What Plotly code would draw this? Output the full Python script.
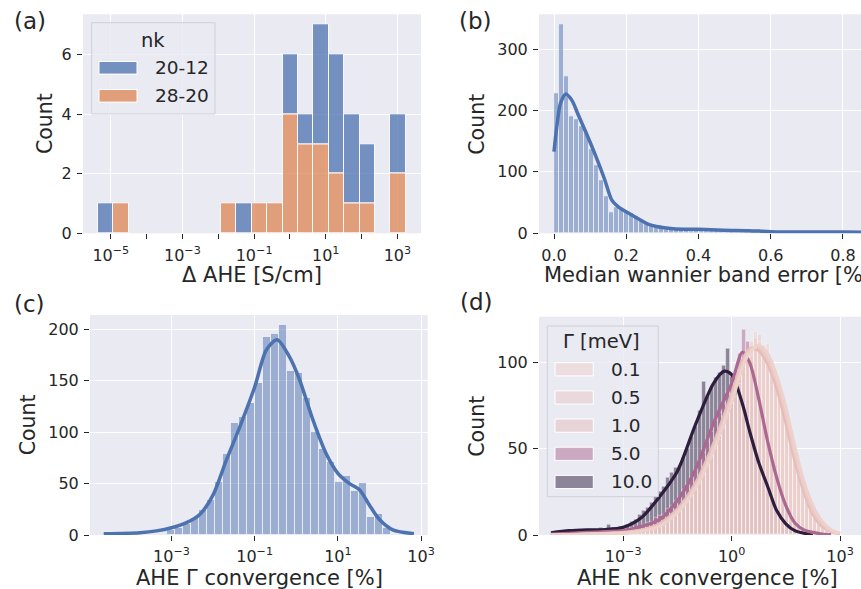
import math
import plotly.graph_objects as go

# ---------------- data ----------------
# (a) Delta AHE histogram (log10 bins), stacked by nk
a_bin_start = -5.363          # log10 of first bin edge
a_bin_width = 0.4299          # bin width in decades
a_hue_labels = ["20-12", "28-20"]
a_counts_20_12 = [1, 0, 0, 0, 0, 0, 0, 0, 0, 1, 0, 0, 2, 1, 4, 4, 3, 2, 0, 2]
a_counts_28_20 = [0, 1, 0, 0, 0, 0, 0, 0, 1, 0, 1, 1, 4, 3, 3, 2, 1, 1, 0, 2]
a_tickvals = [-5, -3, -1, 1, 3]
a_ticktext = ["10<sup>−5</sup>", "10<sup>−3</sup>", "10<sup>−1</sup>", "10<sup>1</sup>", "10<sup>3</sup>"]
a_minor_vals = [-4, -2, 0, 2]
a_yticks = [0, 2, 4, 6]

# (b) median wannier band error histogram + kde
b_bin_start = 0.0
b_bin_width = 0.01385
b_counts = [228, 340, 255, 190, 186, 174, 163, 137, 110, 86, 60, 35, 43, 40, 36, 33,
            28, 22, 16, 12, 10, 9, 7, 6, 6, 5, 5, 4, 5, 4, 3, 4, 3, 3, 2, 3,
            2, 2, 3, 4, 2, 1, 1, 2, 1, 1, 1, 0, 1, 1, 0, 1, 1, 0, 1, 0,
            1, 1, 0, 1, 1, 1]
b_kde_x = [0.0, 0.008, 0.018, 0.033, 0.05, 0.067, 0.09, 0.114, 0.14, 0.16, 0.178, 0.206,
           0.238, 0.26, 0.284, 0.33, 0.4, 0.47, 0.54, 0.6, 0.7, 0.8, 0.9]
b_kde_y = [133, 175, 212, 227, 216, 193, 162, 128, 88, 54, 43, 33,
           22, 15, 11, 7.6, 6.5, 5, 4.3, 2.7, 2, 2.2, 1.5]
b_tickvals = [0.0, 0.2, 0.4, 0.6, 0.8]
b_ticktext = ["0.0", "0.2", "0.4", "0.6", "0.8"]
b_yticks = [0, 100, 200, 300]

# (c) AHE Gamma convergence histogram (log10 bins) + kde
c_bin_start = -3.114
c_bin_width = 0.1922
c_counts = [5, 7, 11, 17, 24, 34, 52, 79, 109, 115, 128, 148, 193, 196, 204, 160,
            158, 133, 100, 84, 71, 52, 57, 43, 51, 18, 20, 7]
c_kde_x = [-4.63, -3.76, -3.36, -3.0, -2.64, -2.32, -2.0, -1.68, -1.36, -1.0, -0.72,
           -0.46, -0.16, 0.08, 0.40, 0.72, 1.0, 1.28, 1.52, 1.76, 2.0, 2.32, 2.83]
c_kde_y = [1.3, 2.3, 4, 7, 12, 20, 39, 73, 105, 144, 180, 190, 173, 151, 112, 79, 60,
           50, 44, 29, 15, 5, 1.3]
c_tickvals = [-3, -1, 1, 3]
c_ticktext = ["10<sup>−3</sup>", "10<sup>−1</sup>", "10<sup>1</sup>", "10<sup>3</sup>"]
c_yticks = [0, 50, 100, 150, 200]

# (d) AHE nk convergence histograms per Gamma (log10 bins, shared) + kde
d_bin_start = -5.0
d_bin_width = 0.11
d_gamma = [0.1, 0.5, 1.0, 5.0, 10.0]
d_gamma_labels = ["0.1", "0.5", "1.0", "5.0", "10.0"]
d_counts_0_1 = [0] * 10 + [0, 1, 0, 1, 0, 1, 1, 1, 1] + [
    2, 1, 2, 3, 2, 3, 4, 4, 5, 6, 8, 10, 12, 14, 17, 20, 23, 28, 31, 36,
    40, 45, 51, 55, 62, 68, 76, 80, 88, 97, 102, 108, 118, 112, 106, 111, 98, 92, 86, 74,
    66, 55, 46, 38, 31, 24, 18, 13, 9, 6, 4, 2, 1]
d_counts_0_5 = [0] * 10 + [0, 0, 1, 0, 1, 1, 0, 1, 1] + [
    1, 2, 2, 2, 3, 3, 4, 5, 5, 7, 8, 9, 12, 15, 16, 21, 24, 27, 32, 35,
    41, 46, 50, 57, 63, 70, 74, 83, 90, 95, 104, 112, 109, 116, 110, 104, 100, 95, 84, 75,
    66, 58, 47, 41, 31, 26, 19, 15, 10, 7, 4, 2, 1]
d_counts_1_0 = [0] * 10 + [0, 1, 0, 1, 0, 1, 1, 1, 1] + [
    2, 2, 3, 2, 3, 4, 4, 5, 6, 7, 9, 11, 13, 15, 18, 21, 25, 29, 33, 37,
    43, 48, 53, 58, 65, 72, 79, 86, 92, 100, 107, 104, 114, 108, 103, 100, 96, 88, 80, 72,
    63, 54, 45, 37, 29, 23, 17, 13, 9, 6, 3, 2, 1]
d_counts_5_0 = [0, 0, 0, 1, 0, 0, 1, 0, 0, 1,
                1, 0, 1, 1, 2, 1, 2, 2, 3, 3, 4, 4, 5, 6, 7, 8, 10, 11, 12, 15,
                17, 20, 22, 26, 30, 34, 38, 43, 48, 54, 60, 66, 71, 76, 83, 88, 96, 105, 119, 112,
                100, 92, 79, 67, 58, 48, 40, 30, 22, 17, 12, 8, 6, 4, 3, 2, 1, 1, 0, 0, 0, 0]
d_counts_10_0 = [1, 1, 2, 1, 2, 3, 2, 3, 2, 3, 3, 2, 4, 3, 6, 4, 4, 5, 5, 6,
                 8, 9, 12, 14, 16, 19, 22, 25, 28, 33, 36, 39, 40, 45, 50, 57, 63, 72, 89, 80,
                 86, 91, 94, 98, 108, 92, 86, 78, 68, 60, 52, 45, 38, 31, 25, 20, 15, 11, 8, 6,
                 4, 3, 2, 1, 1, 0, 0, 0, 0, 0, 0, 0]
d_kde_x_light = [-5.0, -4.5, -4.0, -3.5, -3.0, -2.5, -2.0, -1.5, -1.0, -0.5, 0.0, 0.3,
                 0.5, 0.75, 1.0, 1.25, 1.5, 1.75, 2.0, 2.25, 2.5, 2.75, 3.0]
d_kde_y_0_1 = [0, 0.2, 0.4, 0.7, 1, 2, 5, 13, 27, 49, 77, 97, 106, 110, 105, 92, 74, 51,
               31, 17, 8, 3, 1]
d_kde_y_0_5 = [0, 0.2, 0.5, 0.8, 1.2, 2.3, 5.5, 14, 28, 51, 79, 99, 107, 109, 102, 89, 70,
               47, 28, 14, 6.5, 2.5, 0.8]
d_kde_y_1_0 = [0, 0.3, 0.6, 1, 1.5, 2.8, 6.5, 15, 30, 53, 82, 101, 108, 107, 99, 85, 65,
               43, 25, 12, 5, 2, 0.6]
d_kde_x_5_0 = [-5.0, -4.5, -4.0, -3.5, -3.0, -2.5, -2.0, -1.5, -1.0, -0.5, 0.0, 0.3, 0.5,
               0.75, 1.0, 1.25, 1.5, 1.75, 2.0, 2.25, 2.5, 2.75]
d_kde_y_5_0 = [0.5, 1, 1.5, 2, 2.5, 5, 9, 20, 38, 65, 88, 106, 100, 79, 54, 33, 17, 7, 3,
               1.5, 0.5, 0.2]
d_kde_x_10_0 = [-5.0, -4.5, -4.0, -3.5, -3.0, -2.5, -2.0, -1.5, -1.0, -0.5, -0.2, 0.0, 0.3,
                0.5, 0.75, 1.0, 1.25, 1.5, 1.75, 2.0, 2.25]
d_kde_y_10_0 = [1.3, 2.5, 3, 3.2, 4.5, 10, 22, 37, 64, 88, 95, 93, 76, 60, 42, 28, 14, 6.5,
                2.5, 1, 0.3]
d_tickvals = [-3, 0, 3]
d_ticktext = ["10<sup>−3</sup>", "10<sup>0</sup>", "10<sup>3</sup>"]
d_yticks = [0, 50, 100]

# ---------------- styling ----------------
W, H = 861, 589
FONT = "DejaVu Sans"
TXT = "#262626"
BG = "#eaeaf2"
BLUE = (76, 114, 176)
ORANGE = (221, 132, 82)


def rgba(c, a):
    return "rgba(%d,%d,%d,%.3f)" % (c[0], c[1], c[2], a)


def cubehelix(v):
    # seaborn default numeric hue palette ("ch:")
    start, rot, gamma, hue, light, dark = 0.0, 0.4, 1.0, 0.8, 0.85, 0.15
    x = light + (dark - light) * v
    xg = x ** gamma
    a = hue * xg * (1 - xg) / 2
    phi = 2 * math.pi * (start / 3 + rot * x)
    r = xg + a * (-0.14861 * math.cos(phi) + 1.78277 * math.sin(phi))
    g = xg + a * (-0.29227 * math.cos(phi) - 0.90649 * math.sin(phi))
    b = xg + a * (1.97294 * math.cos(phi))
    return tuple(int(round(255 * min(1, max(0, c)))) for c in (r, g, b))


def px_x(p):
    return p / W


def px_y(p):
    return 1 - p / H


def centers(start, width, counts):
    xs, ys = [], []
    for i, c in enumerate(counts):
        if c > 0:
            xs.append(start + width * (i + 0.5))
            ys.append(c)
    return xs, ys


fig = go.Figure()

# ----- (a) stacked histogram -----
n_a = len(a_counts_28_20)
xa_o, ya_o = centers(a_bin_start, a_bin_width, a_counts_28_20)
fig.add_trace(go.Bar(x=xa_o, y=ya_o, width=a_bin_width, xaxis="x", yaxis="y",
                     marker=dict(color=rgba(ORANGE, 0.75), line=dict(color="rgba(255,255,255,0.9)", width=1)),
                     showlegend=False, hoverinfo="skip"))
xb, yb, bb = [], [], []
for i in range(n_a):
    if a_counts_20_12[i] > 0:
        xb.append(a_bin_start + a_bin_width * (i + 0.5))
        yb.append(a_counts_20_12[i])
        bb.append(a_counts_28_20[i])
fig.add_trace(go.Bar(x=xb, y=yb, base=bb, width=a_bin_width, xaxis="x", yaxis="y",
                     marker=dict(color=rgba(BLUE, 0.75), line=dict(color="rgba(255,255,255,0.9)", width=1)),
                     showlegend=False, hoverinfo="skip"))

# ----- (b) -----
xb2, yb2 = centers(b_bin_start, b_bin_width, b_counts)
fig.add_trace(go.Bar(x=xb2, y=yb2, width=b_bin_width, xaxis="x2", yaxis="y2",
                     marker=dict(color=rgba(BLUE, 0.5), line=dict(color="rgba(255,255,255,0.6)", width=1)),
                     showlegend=False, hoverinfo="skip"))
fig.add_trace(go.Scatter(x=b_kde_x, y=b_kde_y, mode="lines", xaxis="x2", yaxis="y2",
                         line=dict(color=rgba(BLUE, 1), width=3.5, shape="spline", smoothing=0.8),
                         showlegend=False, hoverinfo="skip"))

# ----- (c) -----
xc, yc = centers(c_bin_start, c_bin_width, c_counts)
fig.add_trace(go.Bar(x=xc, y=yc, width=c_bin_width, xaxis="x3", yaxis="y3",
                     marker=dict(color=rgba(BLUE, 0.5), line=dict(color="rgba(255,255,255,0.6)", width=1)),
                     showlegend=False, hoverinfo="skip"))
fig.add_trace(go.Scatter(x=c_kde_x, y=c_kde_y, mode="lines", xaxis="x3", yaxis="y3",
                         line=dict(color=rgba(BLUE, 1), width=3.5, shape="spline", smoothing=0.8),
                         showlegend=False, hoverinfo="skip"))

# ----- (d) -----
d_counts = [d_counts_0_1, d_counts_0_5, d_counts_1_0, d_counts_5_0, d_counts_10_0]
d_kde = [(d_kde_x_light, d_kde_y_0_1), (d_kde_x_light, d_kde_y_0_5), (d_kde_x_light, d_kde_y_1_0),
         (d_kde_x_5_0, d_kde_y_5_0), (d_kde_x_10_0, d_kde_y_10_0)]
gmin, gmax = min(d_gamma), max(d_gamma)
d_colors = [cubehelix((g - gmin) / (gmax - gmin)) for g in d_gamma]
for idx in reversed(range(len(d_gamma))):
    xd, yd = centers(d_bin_start, d_bin_width, d_counts[idx])
    fig.add_trace(go.Bar(x=xd, y=yd, width=d_bin_width, xaxis="x4", yaxis="y4",
                         marker=dict(color=rgba(d_colors[idx], 0.5), line=dict(color="rgba(255,255,255,0.5)", width=0.8)),
                         showlegend=False, hoverinfo="skip"))
for idx in reversed(range(len(d_gamma))):
    kx, ky = d_kde[idx]
    fig.add_trace(go.Scatter(x=kx, y=ky, mode="lines", xaxis="x4", yaxis="y4",
                             line=dict(color=rgba(d_colors[idx], 1), width=3.2, shape="spline", smoothing=0.8),
                             showlegend=False, hoverinfo="skip"))

# ---------------- axes ----------------
base_axis = dict(showgrid=True, gridcolor="white", gridwidth=1.3, zeroline=False, showline=False,
                 ticks="outside", ticklen=5, tickwidth=1.3, tickcolor=TXT, automargin=False,
                 tickfont=dict(family=FONT, size=16, color=TXT), ticklabelstandoff=2)

dom_left_a = [px_x(83), px_x(421)]
dom_left_c = [px_x(90), px_x(427.7)]
dom_right = [px_x(539), 1.0]
dom_top = [px_y(233.3), px_y(14.3)]
dom_bot_c = [px_y(535), px_y(315)]
dom_bot_d = [px_y(535), px_y(316.7)]

fig.update_layout(
    template="none",
    xaxis=dict(base_axis, domain=dom_left_a, range=[-5.776, 3.66], anchor="y",
               tickmode="array", tickvals=a_tickvals, ticktext=a_ticktext,
               minor=dict(tickmode="array", tickvals=a_minor_vals, ticks="outside", ticklen=5,
                          tickwidth=1.3, tickcolor=TXT, showgrid=False)),
    yaxis=dict(base_axis, domain=dom_top, range=[0, 7.35], anchor="x",
               tickmode="array", tickvals=a_yticks),
    xaxis2=dict(base_axis, domain=dom_right, range=[-0.0416, 0.85], anchor="y2",
                tickmode="array", tickvals=b_tickvals, ticktext=b_ticktext),
    yaxis2=dict(base_axis, domain=dom_top, range=[0, 356.6], anchor="x2",
                tickmode="array", tickvals=b_yticks),
    xaxis3=dict(base_axis, domain=dom_left_c, range=[-4.96, 3.16], anchor="y3",
                tickmode="array", tickvals=c_tickvals, ticktext=c_ticktext),
    yaxis3=dict(base_axis, domain=dom_bot_c, range=[0, 214], anchor="x3",
                tickmode="array", tickvals=c_yticks),
    xaxis4=dict(base_axis, domain=dom_right, range=[-5.33, 3.58], anchor="y4",
                tickmode="array", tickvals=d_tickvals, ticktext=d_ticktext),
    yaxis4=dict(base_axis, domain=dom_bot_d, range=[0, 126.6], anchor="x4",
                tickmode="array", tickvals=d_yticks),
    barmode="overlay",
    bargap=0,
    width=W, height=H,
    margin=dict(l=0, r=0, t=0, b=0, pad=0),
    paper_bgcolor="white",
    plot_bgcolor=BG,
    font=dict(family=FONT, color=TXT),
    showlegend=False,
)

annotations = []
shapes = []


def text(x, y, s, size, angle=0, xanchor="center"):
    annotations.append(dict(x=px_x(x), y=px_y(y), xref="paper", yref="paper", text=s,
                            showarrow=False, xanchor=xanchor, yanchor="middle", textangle=angle,
                            font=dict(family=FONT, size=size, color=TXT)))


# panel labels
text(12, 21, "(a)", 23, xanchor="left")
text(457.5, 21, "(b)", 23, xanchor="left")
text(12, 304, "(c)", 23, xanchor="left")
text(458.5, 302, "(d)", 23, xanchor="left")

# axis titles
text(252, 275, "Δ AHE [S/cm]", 21)
text(707.5, 275, "Median wannier band error [%]", 21)
text(259, 578, "AHE Γ convergence [%]", 21)
text(707.5, 578, "AHE nk convergence [%]", 21)
text(45, 124, "Count", 20.5, angle=-90)
text(476.7, 124, "Count", 20.5, angle=-90)
text(28.3, 425, "Count", 20.5, angle=-90)
text(476.7, 426, "Count", 20.5, angle=-90)


def rect(x0, y0, x1, y1, fill, line="rgba(0,0,0,0)", lw=0):
    shapes.append(dict(type="rect", xref="paper", yref="paper", x0=px_x(x0), x1=px_x(x1),
                       y0=px_y(y1), y1=px_y(y0), fillcolor=fill, line=dict(color=line, width=lw),
                       layer="above"))


# legend (a)
rect(91.7, 22.7, 215, 114, "rgba(234,234,242,0.8)", "#cfcfd8", 1)
text(153, 40.5, "nk", 19.5)
leg_a_colors = [rgba(BLUE, 0.75), rgba(ORANGE, 0.75)]
for i, lab in enumerate(a_hue_labels):
    cy = 67.8 + 28 * i
    rect(99, cy - 6.3, 137, cy + 6.3, leg_a_colors[i], "white", 1)
    text(153, cy, lab, 18.5, xanchor="left")

# legend (d)
rect(547.3, 326, 658.3, 496.7, "rgba(234,234,242,0.8)", "#cfcfd8", 1)
text(601.7, 341, "Γ [meV]", 19.5)
for i, lab in enumerate(d_gamma_labels):
    cy = 369.3 + 28.17 * i
    rect(555, cy - 6.6, 593.3, cy + 6.6, rgba(d_colors[i], 0.5), "white", 1)
    text(609, cy, lab, 18.5, xanchor="left")

fig.update_layout(annotations=annotations, shapes=shapes)

fig.write_html("out.html", config={"displayModeBar": False},
               post_script="document.body.style.margin='0';document.body.style.overflow='hidden';")
